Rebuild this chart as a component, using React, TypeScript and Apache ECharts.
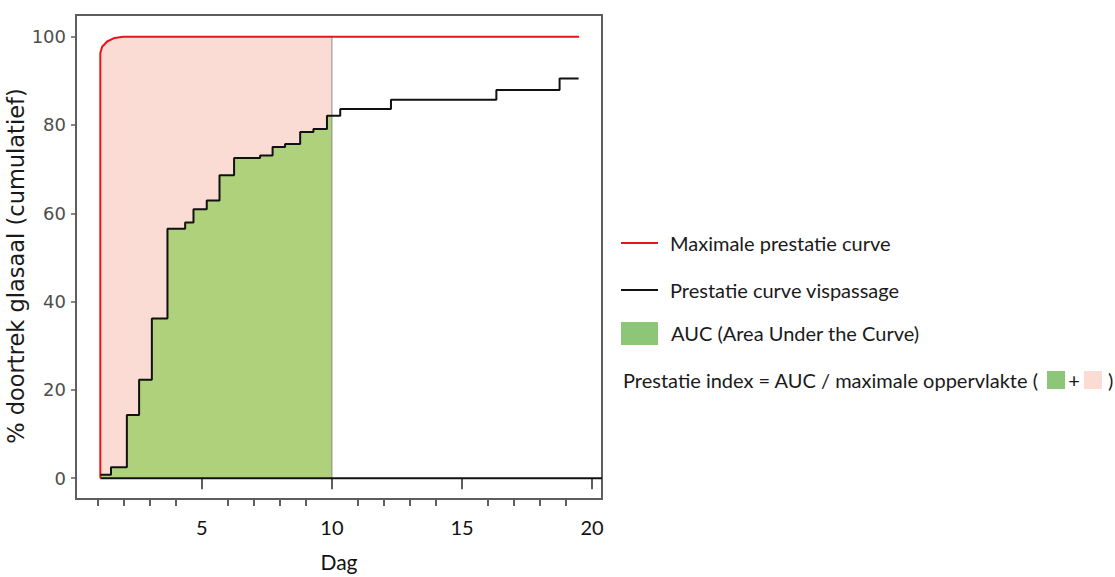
import React, { useEffect, useRef } from "react";
import * as echarts from "echarts";

// Maximal performance curve (day, % cumulative)
const redCurve: [number, number][] = [
  [1.1, 0], [1.1, 96.3], [1.17, 97.7], [1.36, 98.9], [1.65, 99.7], [1.98, 100], [19.5, 100],
];
// Fish-passage performance curve (step, value holds from the day onwards)
const stepCurve: [number, number][] = [
  [1.1, 0.8], [1.51, 2.5], [2.12, 14.3], [2.59, 22.3], [3.08, 36.2], [3.68, 56.5],
  [4.36, 57.9], [4.68, 60.9], [5.19, 62.9], [5.68, 68.6], [6.24, 72.5], [7.24, 73.1],
  [7.72, 75.0], [8.2, 75.7], [8.78, 78.4], [9.29, 79.1], [9.81, 82.1], [10.32, 83.6],
  [12.27, 85.7], [16.32, 87.9], [18.75, 90.5], [19.48, 90.5],
];
const aucEnd = 10;
const baseStart = 1.1;
const xMin = 0.165;
const xMax = 20.38;
const yMin = -4.7;
const yMax = 104.9;
const xLabelValues = [5, 10, 15, 20];
const xMajorTicks = [5, 10, 15, 20];
const xMinorTicks = [1, 2, 3, 4, 6, 7, 8, 9, 11, 12, 13, 14, 16, 17, 18, 19];
const yTickValues = [0, 20, 40, 60, 80, 100];

const legendFont = "Lato";
const axisFont = "DejaVu Sans";

export default function App() {
  const ref = useRef<HTMLDivElement>(null);
  useEffect(() => {
    document.body.style.margin = "0";
    if (!ref.current) return;
    const chart = echarts.init(ref.current, undefined, { renderer: "svg" });

    const pinkData: [number, number][] = redCurve
      .filter((p) => p[0] <= aucEnd)
      .concat([[aucEnd, 100]]);
    const greenBase = stepCurve.filter((p) => p[0] <= aucEnd);
    const greenData: [number, number][] = greenBase.concat([[aucEnd, greenBase[greenBase.length - 1][1]]]);

    const baseAxis = {
      type: "value" as const,
      min: xMin,
      max: xMax,
      position: "bottom" as const,
      axisLine: { show: false },
      splitLine: { show: false },
    };

    chart.setOption({
      animation: false,
      grid: {
        left: 76,
        top: 15,
        width: 526,
        height: 488,
        show: true,
        borderColor: "#5e5e5e",
        borderWidth: 2,
        backgroundColor: "transparent",
      },
      xAxis: [
        {
          ...baseAxis,
          axisTick: {
            show: true,
            customValues: xMajorTicks,
            length: 11,
            lineStyle: { color: "#5e5e5e", width: 2 },
          },
          axisLabel: {
            customValues: xLabelValues,
            fontFamily: legendFont,
            fontSize: 20,
            color: "#111",
            margin: 18,
          },
          name: "Dag",
          nameLocation: "middle",
          nameGap: 52,
          nameTextStyle: { fontFamily: legendFont, fontSize: 21, color: "#111" },
        },
        {
          ...baseAxis,
          axisTick: {
            show: true,
            customValues: xMinorTicks,
            length: 7,
            lineStyle: { color: "#5e5e5e", width: 2 },
          },
          axisLabel: { show: false },
        },
      ],
      yAxis: {
        type: "value",
        min: yMin,
        max: yMax,
        axisLine: { show: false },
        splitLine: { show: false },
        axisTick: {
          show: true,
          customValues: yTickValues,
          length: 5,
          lineStyle: { color: "#5e5e5e", width: 1.5 },
        },
        axisLabel: {
          customValues: yTickValues,
          fontFamily: axisFont,
          fontSize: 18,
          color: "#4d4d4d",
          margin: 10,
        },
        name: "% doortrek glasaal (cumulatief)",
        nameLocation: "middle",
        nameGap: 41,
        nameTextStyle: { fontFamily: axisFont, fontSize: 22.5, color: "#1a1a1a", padding: [0, 18, 0, 0] },
      },
      series: [
        {
          type: "line",
          data: pinkData,
          symbol: "none",
          silent: true,
          lineStyle: { width: 0 },
          areaStyle: { color: "#fadcd4", opacity: 1, origin: 0 },
        },
        {
          type: "line",
          data: greenData,
          step: "end",
          symbol: "none",
          silent: true,
          lineStyle: { width: 0 },
          areaStyle: { color: "#afd17c", opacity: 1, origin: 0 },
        },
        {
          type: "line",
          data: [[aucEnd, 0], [aucEnd, 100]],
          symbol: "none",
          silent: true,
          lineStyle: { color: "#8a8a8a", width: 1 },
        },
        {
          type: "line",
          data: [[baseStart, 0], [xMax, 0]],
          symbol: "none",
          silent: true,
          lineStyle: { color: "#111", width: 2 },
        },
        {
          type: "line",
          data: redCurve,
          symbol: "none",
          silent: true,
          lineStyle: { color: "#e8141c", width: 2 },
        },
        {
          type: "line",
          data: stepCurve,
          step: "end",
          symbol: "none",
          silent: true,
          lineStyle: { color: "#111", width: 2 },
        },
      ],
      graphic: [
        { type: "line", shape: { x1: 621, y1: 243, x2: 658, y2: 243 }, style: { stroke: "#e8141c", lineWidth: 2 } },
        {
          type: "text", x: 670, y: 243,
          style: { text: "Maximale prestatie curve", fontFamily: legendFont, fontSize: 20, fill: "#1a1a1a", verticalAlign: "middle" },
        },
        { type: "line", shape: { x1: 621, y1: 290, x2: 658, y2: 290 }, style: { stroke: "#111", lineWidth: 2 } },
        {
          type: "text", x: 670, y: 290,
          style: { text: "Prestatie curve vispassage", fontFamily: legendFont, fontSize: 20, fill: "#1a1a1a", verticalAlign: "middle" },
        },
        { type: "rect", shape: { x: 621, y: 322, width: 37, height: 23 }, style: { fill: "#8dc676" } },
        {
          type: "text", x: 671, y: 333,
          style: { text: "AUC (Area Under the Curve)", fontFamily: legendFont, fontSize: 20, fill: "#1a1a1a", verticalAlign: "middle" },
        },
        {
          type: "text", x: 623, y: 380,
          style: { text: "Prestatie index = AUC / maximale oppervlakte (", fontFamily: legendFont, fontSize: 20, fill: "#1a1a1a", verticalAlign: "middle" },
        },
        { type: "rect", shape: { x: 1047, y: 371, width: 18, height: 18 }, style: { fill: "#8dc676" } },
        {
          type: "text", x: 1074, y: 380,
          style: { text: "+", fontFamily: legendFont, fontSize: 20, fill: "#1a1a1a", verticalAlign: "middle", align: "center" },
        },
        { type: "rect", shape: { x: 1084, y: 371, width: 18, height: 18 }, style: { fill: "#fbdcd5" } },
        {
          type: "text", x: 1108, y: 380,
          style: { text: ")", fontFamily: legendFont, fontSize: 20, fill: "#1a1a1a", verticalAlign: "middle" },
        },
      ],
    });
    return () => chart.dispose();
  }, []);
  return <div ref={ref} style={{ width: 1115, height: 577 }} />;
}
